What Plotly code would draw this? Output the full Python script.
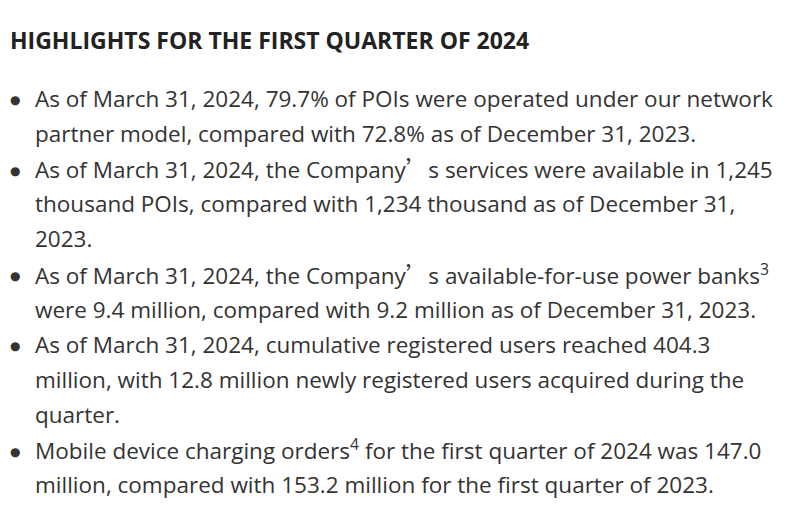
import plotly.graph_objects as go

W, H = 800, 519
OFF = 8  # page body margin

title = "HIGHLIGHTS FOR THE FIRST QUARTER OF 2024"
apos = '<span style="font-family:Noto Sans CJK SC">\u2019</span>'
bullets = [
    ["As of March 31, 2024, 79.7% of POIs were operated under our network",
     "partner model, compared with 72.8% as of December 31, 2023."],
    [f"As of March 31, 2024, the Company{apos}s services were available in 1,245",
     "thousand POIs, compared with 1,234 thousand as of December 31,",
     "2023."],
    [f"As of March 31, 2024, the Company{apos}s available-for-use power banks<sup>3</sup>",
     "were 9.4 million, compared with 9.2 million as of December 31, 2023."],
    ["As of March 31, 2024, cumulative registered users reached 404.3",
     "million, with 12.8 million newly registered users acquired during the",
     "quarter."],
    ["Mobile device charging orders<sup>4</sup> for the first quarter of 2024 was 147.0",
     "million, compared with 153.2 million for the first quarter of 2023."],
]

FONT = "Open Sans"
TEXT_COLOR = "#333333"
TITLE_Y = 40
FIRST_Y = 98.5
LINE_H = 35.1

fig = go.Figure()


def add_text(text, px, py, size=22.5, color=TEXT_COLOR, xanchor="left", family=FONT):
    fig.add_annotation(
        text=text, x=(px - OFF) / W, y=1 - (py - OFF) / H, xref="paper", yref="paper",
        xanchor=xanchor, yanchor="middle", showarrow=False, borderpad=0,
        font=dict(family=family, size=size, color=color), align="left",
    )


add_text(f"<b>{title}</b>", 9, TITLE_Y, size=23, color="#222222")

i = 0
for lines in bullets:
    add_text("\u25CF", 15, FIRST_Y + i * LINE_H + 2, size=12, xanchor="center", family="DejaVu Sans")
    for line in lines:
        add_text(line, 34, FIRST_Y + i * LINE_H)
        i += 1

fig.update_layout(
    width=W, height=H, margin=dict(l=0, r=0, t=0, b=0),
    paper_bgcolor="white", plot_bgcolor="white",
    xaxis=dict(visible=False), yaxis=dict(visible=False),
    showlegend=False,
)
fig.write_html("out.html")
